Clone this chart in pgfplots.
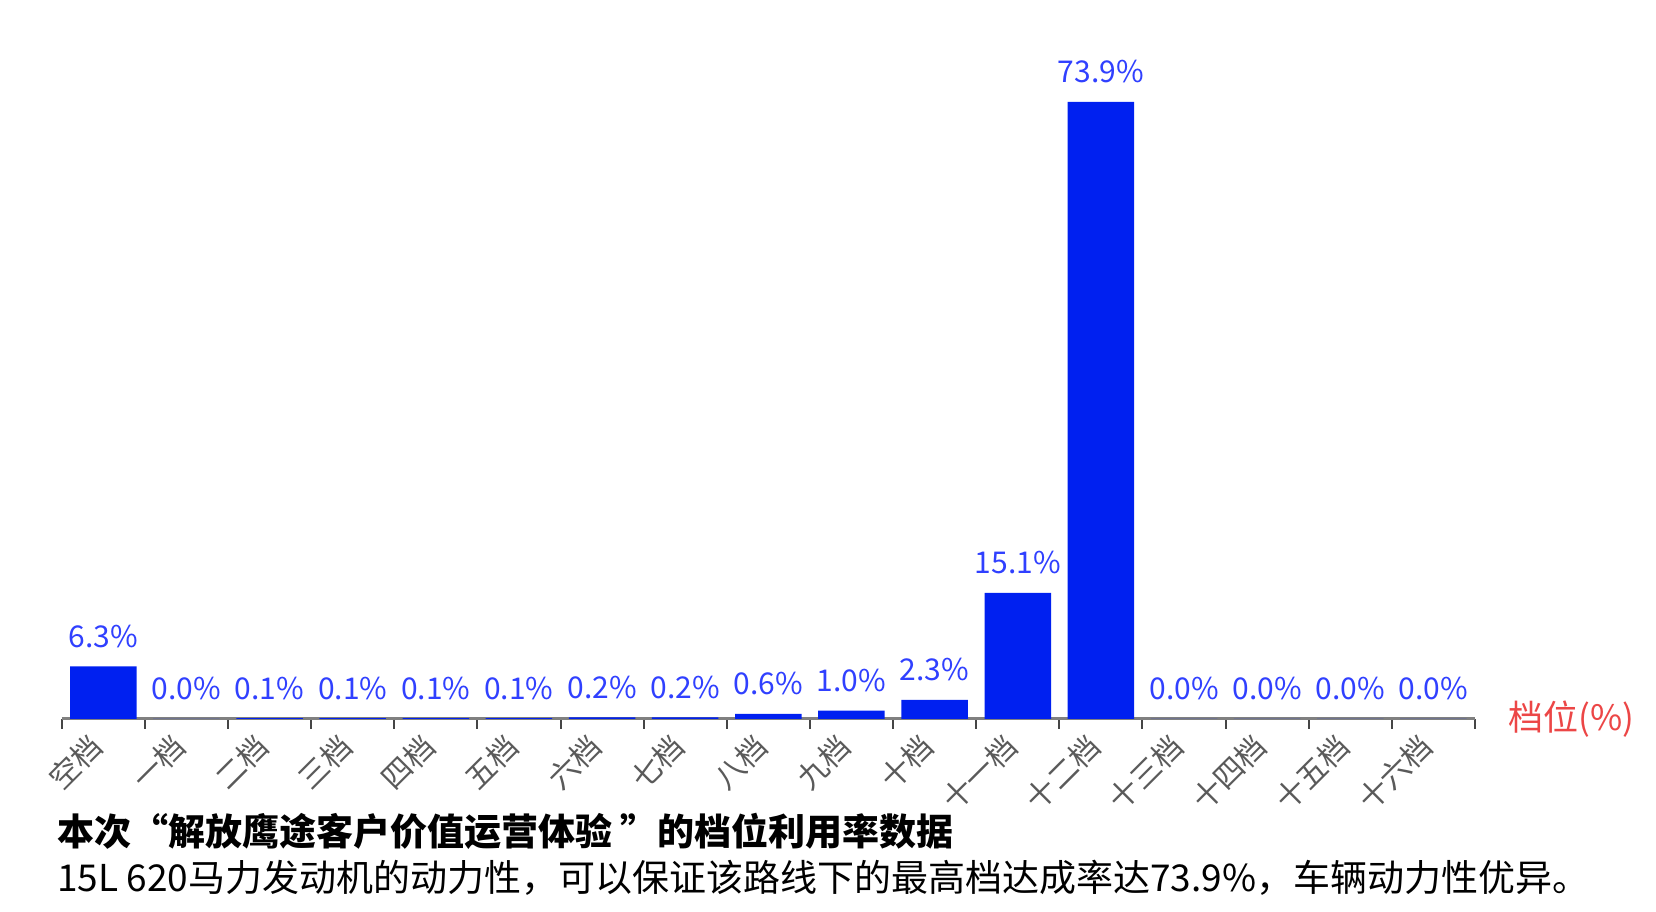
\documentclass[border=0pt]{standalone}
\usepackage{fontspec}
\setmainfont{Noto Sans CJK SC}
\usepackage{pgfplots}
\pgfplotsset{compat=1.18}
\definecolor{barblue}{RGB}{0,32,240}
\definecolor{labelblue}{RGB}{48,64,255}
\definecolor{axisgray}{RGB}{128,128,128}
\definecolor{tickgray}{RGB}{70,70,70}
\definecolor{ticklabel}{RGB}{90,90,90}
\definecolor{xlabred}{RGB}{236,70,70}
\begin{document}
\begin{tikzpicture}[x=1pt,y=1pt]
\path[use as bounding box] (0,0) rectangle (1656,912);
\begin{axis}[
  at={(61.7pt,193pt)}, anchor=south west,
  width=1413.3pt, height=668pt, scale only axis,
  xmin=-0.5, xmax=16.5, ymin=0, ymax=80,
  axis x line=bottom, axis y line=none,
  x axis line style={-, draw=axisgray, line width=3pt},
  xtick={0,...,16},
  xticklabels={空档,一档,二档,三档,四档,五档,六档,七档,八档,九档,十档,十一档,十二档,十三档,十四档,十五档,十六档},
  major tick length=0pt,
  minor xtick={-0.5,0.5,...,16.5},
  minor tick length=10pt,
  tick align=outside,
  minor tick style={draw=tickgray, line width=2pt},
  ytick=\empty,
  xticklabel style={rotate=45, anchor=east, font=\fontsize{30}{30}\selectfont, text=ticklabel, inner sep=0pt, yshift=-11pt, xshift=-20pt},
  clip=false,
  ybar, bar width=66.5pt,
  point meta=y,
  /pgf/number format/assume math mode=true,
  nodes near coords={\pgfmathprintnumber[fixed,fixed zerofill,precision=1,assume math mode=true]{\pgfplotspointmeta}\%},
  every node near coord/.append style={font=\fontsize{30}{30}\selectfont, text=labelblue, anchor=base, inner sep=0pt, yshift=19pt},
]
\addplot[fill=barblue, draw=none] coordinates {
(0,6.3) (1,0.0) (2,0.1) (3,0.1) (4,0.1) (5,0.1) (6,0.2) (7,0.2) (8,0.6) (9,1.0) (10,2.3) (11,15.1) (12,73.9) (13,0.0) (14,0.0) (15,0.0) (16,0.0)
};
\end{axis}
\node[anchor=west, inner sep=0pt, text=xlabred, font=\fontsize{35}{35}\selectfont] at (1508,193) {档位(\%)};
\node[anchor=base west, inner sep=0pt, font=\fontsize{37}{37}\selectfont\bfseries] at (57,66) {本次“解放鹰途客户价值运营体验 ”的档位利用率数据};
\node[anchor=base west, inner sep=0pt, font=\fontsize{37}{37}\selectfont] at (57,20) {15L 620马力发动机的动力性，可以保证该路线下的最高档达成率达73.9\%，车辆动力性优异。};
\end{tikzpicture}
\end{document}
